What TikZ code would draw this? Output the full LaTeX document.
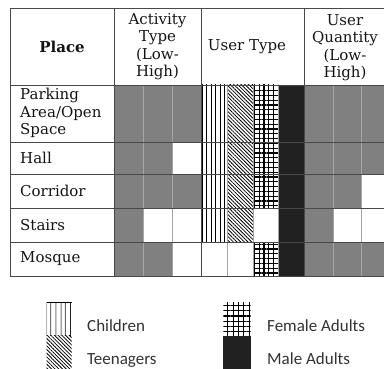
\documentclass[tikz,border=0pt]{standalone}
\usepackage{fontspec}
\setmainfont{DejaVu Serif}
\newfontfamily\legendfont{Carlito}
\usepackage{tikz}
\usetikzlibrary{patterns.meta}
\definecolor{TableGray}{RGB}{128,128,128}
\definecolor{TableBlack}{RGB}{33,33,33}
\definecolor{TableLine}{RGB}{72,72,72}
\definecolor{TableThin}{RGB}{165,165,165}
\definecolor{TableText}{RGB}{20,20,20}
\definecolor{LegendText}{RGB}{50,50,50}

\begin{document}
\begin{tikzpicture}[x=1pt,y=-1pt,
txt/.style={font=\fontsize{15}{17.5}\selectfont,text=TableText,inner sep=0pt},
lgd/.style={font=\legendfont\fontsize{17}{20}\selectfont,text=LegendText,inner sep=0pt,anchor=base west},
kids/.style={pattern={Lines[angle=90,distance=#1,line width=0.9pt]}},
teens/.style={pattern={Lines[angle=-45,distance=2.6pt,line width=0.8pt]}},
females/.style={pattern={Hatch[angle=0,distance=#1,line width=1.1pt]}},
males/.style={fill=TableBlack},
rule/.style={TableLine,line width=0.9pt},
thin/.style={TableThin,line width=0.8pt}]
\useasboundingbox (0,0) rectangle (384,369);
\clip (0,0) rectangle (384,369);
% gray cells
\foreach \x/\ya/\yb in %
{114/85/142,143/85/142,172/85/142,114/142/174,143/142/174,
 114/174/208,143/174/208,172/174/208,114/208/242,114/242/276,143/242/276,
 304/85/142,333/85/142,361/85/142,304/142/174,333/142/174,361/142/174,
 304/174/208,333/174/208,304/208/242,304/242/276,333/242/276,361/242/276} {
   \fill[TableGray] (\x,\ya) rectangle (\x+29,\yb);
}
\fill[kids=4.4pt] (201,85) rectangle (227,242);
\fill[teens] (227,85) rectangle (253,242);
\fill[females=4.8pt] (253,85) rectangle (278,208);
\fill[females=4.8pt] (253,242) rectangle (278,276);
\fill[males] (278,85) rectangle (304,276);
\foreach \x in {143,172,227,253,278,333,361} {
   \draw[thin] (\x,85) -- (\x,276);
}
\foreach \y in {85,142,174,208,242,276} {
   \draw[rule] (10,\y) -- (390,\y);
}
\draw[rule] (10,8) -- (390,8);
\foreach \x in {10,114,201,304} {
   \draw[rule] (\x,8) -- (\x,276);
}
\node[txt,font=\fontsize{15}{17.5}\selectfont\bfseries] (place) at (62,46.5) {Place};
\node[txt,align=center] (activity) at (157.5,46.5) {Activity\\Type\\(Low-\\High)};
\node[txt] (usertype) at (247,46.5) {User Type};
\node[txt,align=center] (quantity) at (345,47.5) {User\\Quantity\\(Low-\\High)};
\node[txt,align=left,anchor=west] (parking) at (20,113) {Parking\\Area/Open\\Space};
\foreach \y/\n/\1 in %
{158/hall/Hall,191/corridor/Corridor,225/stairs/Stairs,259/mosque/Mosque} {
   \node[txt,anchor=west] (\n) at (20,\y) {\1};
}
% legend
\fill[kids=5.4pt] (46.7,302.7) rectangle (71.7,336);
\draw[line width=0.9pt] (46.7,302.7) -- (71.7,302.7);
\fill[teens] (46.7,336) rectangle (71.7,375);
\fill[females=5.3pt] (223.3,302.7) rectangle (250.7,336);
\fill[males] (223.3,336) rectangle (250.7,375);
\node[lgd] (children) at (87,331.5) {Children};
\node[lgd] (teenagers) at (87,364.5) {Teenagers};
\node[lgd] (femaleadults) at (267,331.5) {Female Adults};
\node[lgd] (maleadults) at (267,364.5) {Male Adults};
\end{tikzpicture}
\end{document}
